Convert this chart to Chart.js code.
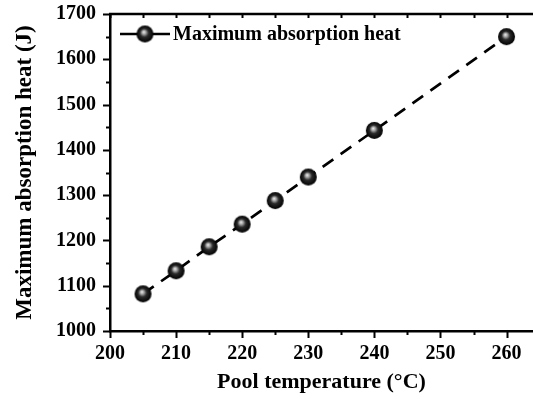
<!DOCTYPE html>
<html>
<head>
<meta charset="utf-8">
<script src="https://cdn.jsdelivr.net/npm/chart.js@4.4.0/dist/chart.umd.min.js"></script>
<style>
  html, body { margin: 0; background: #fff; }
</style>
</head>
<body>
<canvas id="grafico" width="533" height="399"></canvas>
<script>
// data
const temperatures = [205, 210, 215, 220, 225, 230, 240, 260]
const heat = [1082, 1133, 1186, 1236, 1288, 1340, 1443, 1650]
const xTicks = [200, 210, 220, 230, 240, 250, 260]
const yTicks = [1000, 1100, 1200, 1300, 1400, 1500, 1600, 1700]
const seriesName = 'Maximum absorption heat'

const serif = '"Liberation Serif", "Times New Roman", serif'

// shaded ball used as marker
function sphere(r) {
  const c = document.createElement('canvas')
  c.width = c.height = 2 * r + 2
  const g = c.getContext('2d')
  const cx = r + 1, cy = r + 1
  const grad = g.createRadialGradient(cx - r * 0.15, cy - r * 0.25, 0, cx, cy, r)
  grad.addColorStop(0, '#f2f2f2')
  grad.addColorStop(0.22, '#a8a8a8')
  grad.addColorStop(0.5, '#2a2a2a')
  grad.addColorStop(1, '#000')
  g.fillStyle = grad
  g.beginPath()
  g.arc(cx, cy, r, 0, Math.PI * 2)
  g.fill()
  return c
}
const ball = sphere(8.5)

const decorations = {
  id: 'decorations',
  afterDraw(chart) {
    const { ctx, chartArea: a, scales: { x, y } } = chart
    ctx.save()
    ctx.strokeStyle = '#000'
    ctx.lineWidth = 2.5
    ctx.beginPath()
    ctx.moveTo(a.left - 1, a.top)
    ctx.lineTo(a.right, a.top)
    ctx.stroke()

    ctx.lineWidth = 2
    ctx.beginPath()
    for (let v = x.min; v <= x.max; v += 5) {
      const px = Math.round(x.getPixelForValue(v)) + 0.5
      const len = v % 10 === 0 ? 7 : 4
      ctx.moveTo(px, a.bottom)
      ctx.lineTo(px, a.bottom + len)
      ctx.moveTo(px, a.top)
      ctx.lineTo(px, a.top + 4)
    }
    for (let v = y.min; v <= y.max; v += 50) {
      const py = Math.round(y.getPixelForValue(v)) + 0.5
      const len = v % 100 === 0 ? 7 : 4
      ctx.moveTo(a.left, py)
      ctx.lineTo(a.left - len, py)
    }
    ctx.stroke()

    // legend
    const ly = a.top + 20
    const lx = a.left + 10
    ctx.lineWidth = 2.5
    ctx.setLineDash([])
    ctx.beginPath()
    ctx.moveTo(lx, ly)
    ctx.lineTo(lx + 50, ly)
    ctx.stroke()
    ctx.drawImage(ball, lx + 25 - ball.width / 2, ly - ball.height / 2)
    ctx.fillStyle = '#000'
    ctx.font = 'bold 20px ' + serif
    ctx.textAlign = 'left'
    ctx.textBaseline = 'middle'
    ctx.fillText(seriesName, lx + 53, ly + 1)
    ctx.restore()
  }
}

new Chart(document.getElementById('grafico'), {
  type: 'scatter',
  data: {
    datasets: [{
      label: seriesName,
      data: temperatures.map((t, i) => ({ x: t, y: heat[i] })),
      showLine: true,
      borderColor: '#000',
      borderWidth: 2.7,
      borderDash: [13, 9],
      pointStyle: ball,
      pointRadius: 8,
      pointHoverRadius: 8
    }]
  },
  options: {
    responsive: false,
    animation: false,
    devicePixelRatio: 1,
    layout: { autoPadding: false, padding: { top: 14, right: 0, left: 0, bottom: 0 } },
    plugins: { legend: { display: false }, tooltip: { enabled: false } },
    scales: {
      x: {
        type: 'linear',
        min: 200,
        max: 264,
        afterBuildTicks: s => { s.ticks = xTicks.map(v => ({ value: v })) },
        afterFit: s => { s.height = 68; s.paddingLeft = 0; s.paddingRight = 0 },
        grid: { display: false },
        border: { display: true, color: '#000', width: 2.5 },
        ticks: { color: '#000', font: { family: serif, size: 20, weight: 'bold' }, padding: 3, maxRotation: 0, callback: v => String(v) },
        title: { display: true, text: 'Pool temperature (\u00B0C)', color: '#000', font: { family: serif, size: 22, weight: 'bold' }, padding: { top: 4, bottom: 3 } }
      },
      y: {
        min: 1000,
        max: 1700,
        afterBuildTicks: s => { s.ticks = yTicks.map(v => ({ value: v })) },
        afterFit: s => { s.width = 110; s.paddingTop = 0; s.paddingBottom = 0 },
        grid: { display: false },
        border: { display: true, color: '#000', width: 2.5 },
        ticks: { color: '#000', font: { family: serif, size: 20, weight: 'bold' }, padding: 6, callback: v => String(v) },
        title: { display: true, text: 'Maximum absorption heat (J)', color: '#000', font: { family: serif, size: 23, weight: 'bold' }, padding: { top: 11, bottom: 4 } }
      }
    }
  },
  plugins: [decorations]
})
</script>
</body>
</html>
